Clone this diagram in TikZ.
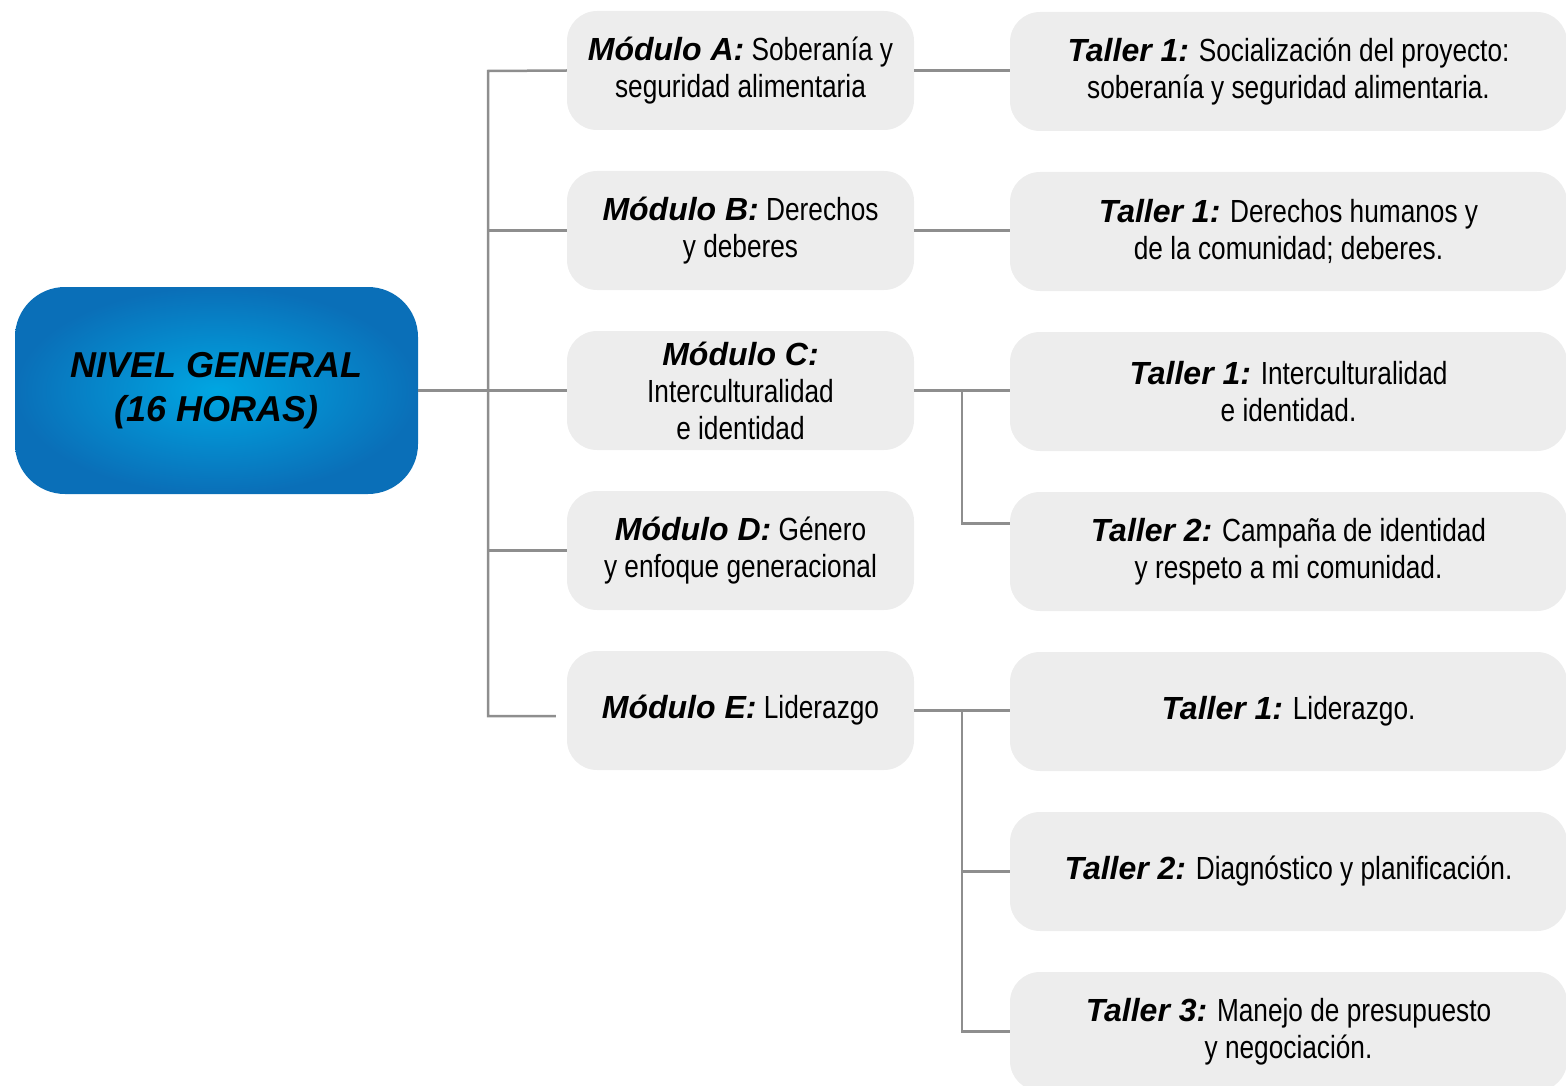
\documentclass[tikz,border=0pt]{standalone}
\usepackage{fontspec}
\setmainfont{Liberation Sans}
\newfontfamily\narrowfont[FakeStretch=0.82]{Liberation Sans}
\newcommand{\hd}[1]{{\normalfont\bfseries\itshape #1}}
\definecolor{boxgray}{HTML}{EDEDED}
\definecolor{linegray}{HTML}{8E8E8E}
\definecolor{blueIn}{HTML}{00A6E2}
\definecolor{blueOut}{HTML}{0A6FB8}
\tikzset{
  rootbox/.style={rectangle, rounded corners=50pt, inner color=blueIn, outer color=blueOut,
    minimum width=403pt, minimum height=207pt, align=center, inner sep=0pt,
    font=\bfseries\itshape\fontsize{36}{44}\selectfont},
  modbox/.style={rectangle, rounded corners=30pt, fill=boxgray, minimum width=347pt,
    minimum height=119pt, align=center, inner sep=0pt,
    font=\narrowfont\fontsize{32}{37}\selectfont},
  tallerbox/.style={modbox, minimum width=557pt},
  conn/.style={draw=linegray, line width=2.5pt}
}
\begin{document}
\begin{tikzpicture}[x=1pt,y=-1pt]
\useasboundingbox (0,0) rectangle (1566,1086);

% root
\node[rootbox] (root) at (216.5,390.5) {NIVEL GENERAL\\(16 HORAS)};

% modules
\node[modbox] (mA) at (740.5,70.5) {\hd{Módulo A:} Soberanía y\\seguridad alimentaria};
\node[modbox] (mB) at (740.5,230.5) {\hd{Módulo B:} Derechos\\y deberes};
\node[modbox] (mC) at (740.5,390.5) {\hd{Módulo C:}\\Interculturalidad\\e identidad};
\node[modbox] (mD) at (740.5,550.5) {\hd{Módulo D:} Género\\y enfoque generacional};
\node[modbox] (mE) at (740.5,710.5) {\hd{Módulo E:} Liderazgo};

% workshops
\node[tallerbox] (tA1) at (1288.5,71.5) {\hd{Taller 1:} Socialización del proyecto:\\soberanía y seguridad alimentaria.};
\node[tallerbox] (tB1) at (1288.5,231.5) {\hd{Taller 1:} Derechos humanos y\\de la comunidad; deberes.};
\node[tallerbox] (tC1) at (1288.5,391.5) {\hd{Taller 1:} Interculturalidad\\e identidad.};
\node[tallerbox] (tC2) at (1288.5,551.5) {\hd{Taller 2:} Campaña de identidad\\y respeto a mi comunidad.};
\node[tallerbox] (tE1) at (1288.5,711.5) {\hd{Taller 1:} Liderazgo.};
\node[tallerbox] (tE2) at (1288.5,871.5) {\hd{Taller 2:} Diagnóstico y planificación.};
\node[tallerbox] (tE3) at (1288.5,1031.5) {\hd{Taller 3:} Manejo de presupuesto\\y negociación.};

% trunk from the root to the modules
\coordinate (jT) at (488,71);
\coordinate (jB) at (488,716);
\coordinate (eE) at ([xshift=-11pt,yshift=-5.5pt]mE.west);
\draw[conn] (root.east) -- (root.east -| jT);
\draw[conn, line join=miter] (mA.west) -- (jT) -- (jB) -- (eE);
\draw[conn] (mB.west) -- (mB.west -| jT);
\draw[conn] (mC.west) -- (mC.west -| jT);
\draw[conn] (mD.west) -- (mD.west -| jT);

% module to workshop links
\draw[conn] (mA.east) -- (mA.east -| tA1.west);
\draw[conn] (mB.east) -- (mB.east -| tB1.west);

\coordinate (cj) at (962,392);
\coordinate (c2) at ([yshift=28pt]tC2.west);
\draw[conn] (mC.east) -- (mC.east -| tC1.west);
\draw[conn, line join=miter] (cj) |- (c2);

\coordinate (ej) at (962,711);
\draw[conn] (mE.east) -- (mE.east -| tE1.west);
\draw[conn, line join=miter] (ej) |- (tE3.west);
\draw[conn] (tE2.west -| ej) -- (tE2.west);
\end{tikzpicture}
\end{document}
